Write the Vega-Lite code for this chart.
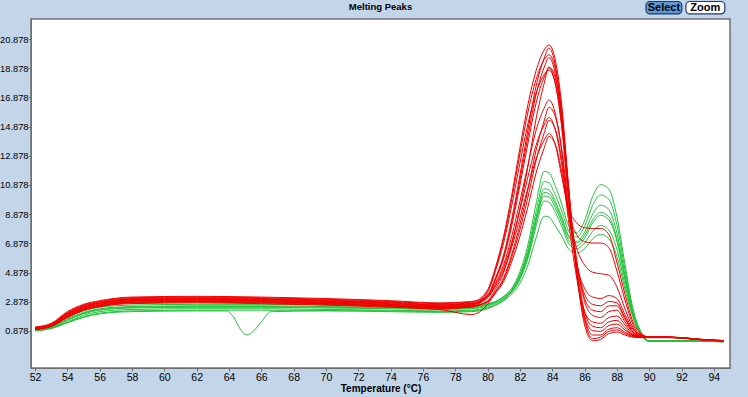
{
"$schema":"https://vega.github.io/schema/vega-lite/v6.json",
"width":699,"height":349,
"autosize":{"type":"none"},
"padding":{"left":31,"top":19,"right":18,"bottom":29},
"background":"#c3d5e8",
"config":{"view":{"fill":"#ffffff","stroke":"#6f6f6f","strokeWidth":1.5},"font":"Liberation Sans","axis":{"labelOverlap":false,"labelFlush":false,"labelBound":false}},
"title":{"text":"Melting Peaks","fontSize":9.5,"fontWeight":"bold","font":"Liberation Sans","color":"#000000","offset":0,"dy":11,"anchor":"middle"},
"datasets":{"curves":[
{"s":"G1","t":52,"v":0.95},{"s":"G1","t":53,"v":1.15},{"s":"G1","t":54,"v":1.7},{"s":"G1","t":55,"v":2.15},{"s":"G1","t":56,"v":2.4},{"s":"G1","t":58,"v":2.55},{"s":"G1","t":62,"v":2.6},{"s":"G1","t":66,"v":2.6},{"s":"G1","t":70,"v":2.55},{"s":"G1","t":74,"v":2.5},{"s":"G1","t":77,"v":2.45},{"s":"G1","t":79,"v":2.5},{"s":"G1","t":80,"v":2.7},{"s":"G1","t":80.5,"v":2.88},{"s":"G1","t":81,"v":3.25},{"s":"G1","t":81.5,"v":3.81},{"s":"G1","t":82,"v":4.93},{"s":"G1","t":82.5,"v":6.79},{"s":"G1","t":83,"v":9.58},{"s":"G1","t":83.5,"v":11.81},{"s":"G1","t":83.8,"v":11.71},{"s":"G1","t":84.2,"v":10.78},{"s":"G1","t":84.6,"v":9.54},{"s":"G1","t":85,"v":8.12},{"s":"G1","t":85.5,"v":7.6},{"s":"G1","t":86,"v":8.43},{"s":"G1","t":86.5,"v":10.08},{"s":"G1","t":87,"v":10.9},{"s":"G1","t":87.5,"v":10.6},{"s":"G1","t":88,"v":8.72},{"s":"G1","t":88.5,"v":5.45},{"s":"G1","t":89,"v":2.4},{"s":"G1","t":89.5,"v":0.8},{"s":"G1","t":90,"v":0.2},{"s":"G1","t":91,"v":0.22},{"s":"G1","t":92,"v":0.2},{"s":"G1","t":93,"v":0.18},{"s":"G1","t":94.6,"v":0.15},
{"s":"G2","t":52,"v":0.92},{"s":"G2","t":53,"v":1.1},{"s":"G2","t":54,"v":1.6},{"s":"G2","t":55,"v":2.05},{"s":"G2","t":56,"v":2.3},{"s":"G2","t":58,"v":2.45},{"s":"G2","t":62,"v":2.5},{"s":"G2","t":66,"v":2.5},{"s":"G2","t":70,"v":2.45},{"s":"G2","t":74,"v":2.4},{"s":"G2","t":77,"v":2.35},{"s":"G2","t":79,"v":2.4},{"s":"G2","t":80,"v":2.6},{"s":"G2","t":80.5,"v":2.86},{"s":"G2","t":81,"v":3.2},{"s":"G2","t":81.5,"v":3.72},{"s":"G2","t":82,"v":4.75},{"s":"G2","t":82.5,"v":6.47},{"s":"G2","t":83,"v":9.05},{"s":"G2","t":83.5,"v":11.11},{"s":"G2","t":83.8,"v":11.03},{"s":"G2","t":84.2,"v":10.17},{"s":"G2","t":84.6,"v":9.06},{"s":"G2","t":85,"v":7.77},{"s":"G2","t":85.5,"v":7.3},{"s":"G2","t":86,"v":8.03},{"s":"G2","t":86.5,"v":9.48},{"s":"G2","t":87,"v":10.2},{"s":"G2","t":87.5,"v":9.9},{"s":"G2","t":88,"v":8.16},{"s":"G2","t":88.5,"v":5.1},{"s":"G2","t":89,"v":2.2},{"s":"G2","t":89.5,"v":0.75},{"s":"G2","t":90,"v":0.2},{"s":"G2","t":91,"v":0.2},{"s":"G2","t":92,"v":0.2},{"s":"G2","t":93,"v":0.17},{"s":"G2","t":94.6,"v":0.14},
{"s":"G3","t":52,"v":0.98},{"s":"G3","t":53,"v":1.18},{"s":"G3","t":54,"v":1.8},{"s":"G3","t":55,"v":2.25},{"s":"G3","t":56,"v":2.5},{"s":"G3","t":58,"v":2.65},{"s":"G3","t":62,"v":2.7},{"s":"G3","t":66,"v":2.7},{"s":"G3","t":70,"v":2.65},{"s":"G3","t":74,"v":2.6},{"s":"G3","t":77,"v":2.5},{"s":"G3","t":79,"v":2.55},{"s":"G3","t":80,"v":2.75},{"s":"G3","t":80.5,"v":2.9},{"s":"G3","t":81,"v":3.2},{"s":"G3","t":81.5,"v":3.65},{"s":"G3","t":82,"v":4.63},{"s":"G3","t":82.5,"v":6.25},{"s":"G3","t":83,"v":8.68},{"s":"G3","t":83.5,"v":10.62},{"s":"G3","t":83.8,"v":10.54},{"s":"G3","t":84.2,"v":9.73},{"s":"G3","t":84.6,"v":8.67},{"s":"G3","t":85,"v":7.44},{"s":"G3","t":85.5,"v":7.0},{"s":"G3","t":86,"v":7.63},{"s":"G3","t":86.5,"v":8.88},{"s":"G3","t":87,"v":9.5},{"s":"G3","t":87.5,"v":9.2},{"s":"G3","t":88,"v":7.6},{"s":"G3","t":88.5,"v":4.75},{"s":"G3","t":89,"v":2.1},{"s":"G3","t":89.5,"v":0.7},{"s":"G3","t":90,"v":0.18},{"s":"G3","t":91,"v":0.2},{"s":"G3","t":92,"v":0.2},{"s":"G3","t":93,"v":0.18},{"s":"G3","t":94.6,"v":0.15},
{"s":"G4","t":52,"v":0.9},{"s":"G4","t":53,"v":1.08},{"s":"G4","t":54,"v":1.5},{"s":"G4","t":55,"v":1.95},{"s":"G4","t":56,"v":2.2},{"s":"G4","t":58,"v":2.35},{"s":"G4","t":62,"v":2.4},{"s":"G4","t":66,"v":2.4},{"s":"G4","t":70,"v":2.35},{"s":"G4","t":74,"v":2.3},{"s":"G4","t":77,"v":2.25},{"s":"G4","t":79,"v":2.3},{"s":"G4","t":80,"v":2.5},{"s":"G4","t":80.5,"v":2.75},{"s":"G4","t":81,"v":3.05},{"s":"G4","t":81.5,"v":3.59},{"s":"G4","t":82,"v":4.5},{"s":"G4","t":82.5,"v":6.02},{"s":"G4","t":83,"v":8.3},{"s":"G4","t":83.5,"v":10.12},{"s":"G4","t":83.8,"v":10.05},{"s":"G4","t":84.2,"v":9.29},{"s":"G4","t":84.6,"v":8.28},{"s":"G4","t":85,"v":7.12},{"s":"G4","t":85.5,"v":6.7},{"s":"G4","t":86,"v":7.23},{"s":"G4","t":86.5,"v":8.28},{"s":"G4","t":87,"v":8.8},{"s":"G4","t":87.5,"v":8.5},{"s":"G4","t":88,"v":7.04},{"s":"G4","t":88.5,"v":4.4},{"s":"G4","t":89,"v":2.0},{"s":"G4","t":89.5,"v":0.65},{"s":"G4","t":90,"v":0.18},{"s":"G4","t":91,"v":0.2},{"s":"G4","t":92,"v":0.19},{"s":"G4","t":93,"v":0.17},{"s":"G4","t":94.6,"v":0.14},
{"s":"G5","t":52,"v":0.93},{"s":"G5","t":53,"v":1.12},{"s":"G5","t":54,"v":1.65},{"s":"G5","t":55,"v":2.1},{"s":"G5","t":56,"v":2.35},{"s":"G5","t":58,"v":2.5},{"s":"G5","t":62,"v":2.55},{"s":"G5","t":66,"v":2.55},{"s":"G5","t":70,"v":2.5},{"s":"G5","t":74,"v":2.45},{"s":"G5","t":77,"v":2.4},{"s":"G5","t":79,"v":2.45},{"s":"G5","t":80,"v":2.65},{"s":"G5","t":80.5,"v":2.82},{"s":"G5","t":81,"v":3.11},{"s":"G5","t":81.5,"v":3.54},{"s":"G5","t":82,"v":4.41},{"s":"G5","t":82.5,"v":5.86},{"s":"G5","t":83,"v":8.04},{"s":"G5","t":83.5,"v":9.78},{"s":"G5","t":83.8,"v":9.7},{"s":"G5","t":84.2,"v":8.98},{"s":"G5","t":84.6,"v":8.01},{"s":"G5","t":85,"v":6.9},{"s":"G5","t":85.5,"v":6.5},{"s":"G5","t":86,"v":6.9},{"s":"G5","t":86.5,"v":7.7},{"s":"G5","t":87,"v":8.1},{"s":"G5","t":87.5,"v":7.8},{"s":"G5","t":88,"v":6.48},{"s":"G5","t":88.5,"v":4.05},{"s":"G5","t":89,"v":1.9},{"s":"G5","t":89.5,"v":0.62},{"s":"G5","t":90,"v":0.18},{"s":"G5","t":91,"v":0.2},{"s":"G5","t":92,"v":0.2},{"s":"G5","t":93,"v":0.18},{"s":"G5","t":94.6,"v":0.15},
{"s":"G6","t":52,"v":0.88},{"s":"G6","t":53,"v":1.05},{"s":"G6","t":54,"v":1.45},{"s":"G6","t":55,"v":1.85},{"s":"G6","t":56,"v":2.1},{"s":"G6","t":58,"v":2.25},{"s":"G6","t":62,"v":2.3},{"s":"G6","t":66,"v":2.3},{"s":"G6","t":70,"v":2.28},{"s":"G6","t":74,"v":2.25},{"s":"G6","t":77,"v":2.2},{"s":"G6","t":79,"v":2.25},{"s":"G6","t":80,"v":2.45},{"s":"G6","t":80.5,"v":2.65},{"s":"G6","t":81,"v":2.95},{"s":"G6","t":81.5,"v":3.41},{"s":"G6","t":82,"v":4.15},{"s":"G6","t":82.5,"v":5.39},{"s":"G6","t":83,"v":7.25},{"s":"G6","t":83.5,"v":8.74},{"s":"G6","t":83.8,"v":8.68},{"s":"G6","t":84.2,"v":8.06},{"s":"G6","t":84.6,"v":7.37},{"s":"G6","t":85,"v":6.51},{"s":"G6","t":85.5,"v":6.2},{"s":"G6","t":86,"v":6.53},{"s":"G6","t":86.5,"v":7.18},{"s":"G6","t":87,"v":7.5},{"s":"G6","t":87.5,"v":7.2},{"s":"G6","t":88,"v":6.0},{"s":"G6","t":88.5,"v":3.75},{"s":"G6","t":89,"v":1.8},{"s":"G6","t":89.5,"v":0.6},{"s":"G6","t":90,"v":0.17},{"s":"G6","t":91,"v":0.19},{"s":"G6","t":92,"v":0.19},{"s":"G6","t":93,"v":0.17},{"s":"G6","t":94.6,"v":0.14},
{"s":"G7","t":52,"v":0.9},{"s":"G7","t":53,"v":1.05},{"s":"G7","t":54,"v":1.45},{"s":"G7","t":55,"v":1.8},{"s":"G7","t":56,"v":2.05},{"s":"G7","t":58,"v":2.2},{"s":"G7","t":62,"v":2.25},{"s":"G7","t":63.8,"v":2.25},{"s":"G7","t":64.3,"v":1.8},{"s":"G7","t":64.7,"v":1.0},{"s":"G7","t":65.1,"v":0.6},{"s":"G7","t":65.5,"v":0.85},{"s":"G7","t":66,"v":1.5},{"s":"G7","t":66.6,"v":2.2},{"s":"G7","t":70,"v":2.25},{"s":"G7","t":74,"v":2.2},{"s":"G7","t":77,"v":2.15},{"s":"G7","t":79,"v":2.2},{"s":"G7","t":80,"v":2.4},{"s":"G7","t":80.5,"v":2.65},{"s":"G7","t":81,"v":3.0},{"s":"G7","t":81.5,"v":3.62},{"s":"G7","t":82,"v":4.56},{"s":"G7","t":82.5,"v":6.13},{"s":"G7","t":83,"v":8.49},{"s":"G7","t":83.5,"v":10.37},{"s":"G7","t":83.8,"v":10.29},{"s":"G7","t":84.2,"v":9.51},{"s":"G7","t":84.6,"v":8.5},{"s":"G7","t":85,"v":7.33},{"s":"G7","t":85.5,"v":6.9},{"s":"G7","t":86,"v":7.43},{"s":"G7","t":86.5,"v":8.48},{"s":"G7","t":87,"v":9.0},{"s":"G7","t":87.5,"v":8.7},{"s":"G7","t":88,"v":7.2},{"s":"G7","t":88.5,"v":4.5},{"s":"G7","t":89,"v":2.05},{"s":"G7","t":89.5,"v":0.68},{"s":"G7","t":90,"v":0.18},{"s":"G7","t":91,"v":0.2},{"s":"G7","t":92,"v":0.2},{"s":"G7","t":93,"v":0.18},{"s":"G7","t":94.6,"v":0.15},
{"s":"R1","t":52,"v":1.1},{"s":"R1","t":53,"v":1.35},{"s":"R1","t":54,"v":2.15},{"s":"R1","t":55,"v":2.65},{"s":"R1","t":56,"v":2.9},{"s":"R1","t":58,"v":3.15},{"s":"R1","t":62,"v":3.2},{"s":"R1","t":66,"v":3.15},{"s":"R1","t":70,"v":3.05},{"s":"R1","t":74,"v":2.9},{"s":"R1","t":77,"v":2.75},{"s":"R1","t":79,"v":2.85},{"s":"R1","t":80,"v":3.68},{"s":"R1","t":80.5,"v":5.27},{"s":"R1","t":81,"v":7.39},{"s":"R1","t":81.5,"v":10.22},{"s":"R1","t":82,"v":13.4},{"s":"R1","t":82.5,"v":16.41},{"s":"R1","t":83,"v":18.7},{"s":"R1","t":83.5,"v":20.12},{"s":"R1","t":83.8,"v":20.47},{"s":"R1","t":84.2,"v":19.41},{"s":"R1","t":84.6,"v":16.23},{"s":"R1","t":85,"v":10.93},{"s":"R1","t":85.5,"v":5.0},{"s":"R1","t":86,"v":1.6},{"s":"R1","t":86.5,"v":0.35},{"s":"R1","t":87,"v":0.45},{"s":"R1","t":87.5,"v":0.85},{"s":"R1","t":88,"v":0.95},{"s":"R1","t":88.5,"v":0.7},{"s":"R1","t":89,"v":0.5},{"s":"R1","t":89.5,"v":0.45},{"s":"R1","t":90,"v":0.45},{"s":"R1","t":91,"v":0.45},{"s":"R1","t":92,"v":0.4},{"s":"R1","t":93,"v":0.3},{"s":"R1","t":94.6,"v":0.2},
{"s":"R2","t":52,"v":1.05},{"s":"R2","t":53,"v":1.3},{"s":"R2","t":54,"v":2.05},{"s":"R2","t":55,"v":2.55},{"s":"R2","t":56,"v":2.8},{"s":"R2","t":58,"v":3.05},{"s":"R2","t":62,"v":3.1},{"s":"R2","t":66,"v":3.05},{"s":"R2","t":70,"v":2.95},{"s":"R2","t":74,"v":2.8},{"s":"R2","t":77,"v":2.65},{"s":"R2","t":79,"v":2.75},{"s":"R2","t":80,"v":3.32},{"s":"R2","t":80.5,"v":4.55},{"s":"R2","t":81,"v":6.12},{"s":"R2","t":81.5,"v":8.56},{"s":"R2","t":82,"v":11.53},{"s":"R2","t":82.5,"v":14.67},{"s":"R2","t":83,"v":17.64},{"s":"R2","t":83.5,"v":19.56},{"s":"R2","t":83.8,"v":20.26},{"s":"R2","t":84.2,"v":19.04},{"s":"R2","t":84.6,"v":15.72},{"s":"R2","t":85,"v":10.66},{"s":"R2","t":85.5,"v":5.5},{"s":"R2","t":86,"v":2.2},{"s":"R2","t":86.5,"v":1.2},{"s":"R2","t":87,"v":1.1},{"s":"R2","t":87.5,"v":1.5},{"s":"R2","t":88,"v":1.6},{"s":"R2","t":88.5,"v":1.1},{"s":"R2","t":89,"v":0.6},{"s":"R2","t":89.5,"v":0.5},{"s":"R2","t":90,"v":0.48},{"s":"R2","t":91,"v":0.45},{"s":"R2","t":92,"v":0.42},{"s":"R2","t":93,"v":0.32},{"s":"R2","t":94.6,"v":0.22},
{"s":"R3","t":52,"v":1.0},{"s":"R3","t":53,"v":1.25},{"s":"R3","t":54,"v":1.95},{"s":"R3","t":55,"v":2.45},{"s":"R3","t":56,"v":2.7},{"s":"R3","t":58,"v":2.95},{"s":"R3","t":62,"v":3.0},{"s":"R3","t":66,"v":2.95},{"s":"R3","t":70,"v":2.85},{"s":"R3","t":74,"v":2.7},{"s":"R3","t":77,"v":2.55},{"s":"R3","t":79,"v":2.65},{"s":"R3","t":80,"v":3.65},{"s":"R3","t":80.5,"v":5.18},{"s":"R3","t":81,"v":7.22},{"s":"R3","t":81.5,"v":9.94},{"s":"R3","t":82,"v":13.0},{"s":"R3","t":82.5,"v":15.89},{"s":"R3","t":83,"v":18.1},{"s":"R3","t":83.5,"v":19.46},{"s":"R3","t":83.8,"v":19.8},{"s":"R3","t":84.2,"v":18.78},{"s":"R3","t":84.6,"v":15.72},{"s":"R3","t":85,"v":10.62},{"s":"R3","t":85.5,"v":5.2},{"s":"R3","t":86,"v":1.8},{"s":"R3","t":86.5,"v":0.6},{"s":"R3","t":87,"v":0.6},{"s":"R3","t":87.5,"v":1.0},{"s":"R3","t":88,"v":1.1},{"s":"R3","t":88.5,"v":0.8},{"s":"R3","t":89,"v":0.55},{"s":"R3","t":89.5,"v":0.45},{"s":"R3","t":90,"v":0.45},{"s":"R3","t":91,"v":0.44},{"s":"R3","t":92,"v":0.4},{"s":"R3","t":93,"v":0.3},{"s":"R3","t":94.6,"v":0.2},
{"s":"R4","t":52,"v":1.15},{"s":"R4","t":53,"v":1.4},{"s":"R4","t":54,"v":2.2},{"s":"R4","t":55,"v":2.7},{"s":"R4","t":56,"v":2.95},{"s":"R4","t":58,"v":3.2},{"s":"R4","t":62,"v":3.25},{"s":"R4","t":66,"v":3.2},{"s":"R4","t":70,"v":3.1},{"s":"R4","t":74,"v":2.95},{"s":"R4","t":77,"v":2.8},{"s":"R4","t":79,"v":2.9},{"s":"R4","t":80,"v":3.3},{"s":"R4","t":80.5,"v":4.48},{"s":"R4","t":81,"v":5.99},{"s":"R4","t":81.5,"v":8.34},{"s":"R4","t":82,"v":11.2},{"s":"R4","t":82.5,"v":14.22},{"s":"R4","t":83,"v":17.08},{"s":"R4","t":83.5,"v":18.93},{"s":"R4","t":83.8,"v":19.6},{"s":"R4","t":84.2,"v":18.42},{"s":"R4","t":84.6,"v":15.23},{"s":"R4","t":85,"v":10.36},{"s":"R4","t":85.5,"v":5.8},{"s":"R4","t":86,"v":2.9},{"s":"R4","t":86.5,"v":1.95},{"s":"R4","t":87,"v":1.8},{"s":"R4","t":87.5,"v":2.2},{"s":"R4","t":88,"v":2.3},{"s":"R4","t":88.5,"v":1.5},{"s":"R4","t":89,"v":0.75},{"s":"R4","t":89.5,"v":0.5},{"s":"R4","t":90,"v":0.45},{"s":"R4","t":91,"v":0.46},{"s":"R4","t":92,"v":0.42},{"s":"R4","t":93,"v":0.3},{"s":"R4","t":94.6,"v":0.2},
{"s":"R5","t":52,"v":1.0},{"s":"R5","t":53,"v":1.2},{"s":"R5","t":54,"v":1.85},{"s":"R5","t":55,"v":2.35},{"s":"R5","t":56,"v":2.6},{"s":"R5","t":58,"v":2.85},{"s":"R5","t":62,"v":2.9},{"s":"R5","t":66,"v":2.85},{"s":"R5","t":70,"v":2.75},{"s":"R5","t":74,"v":2.6},{"s":"R5","t":77,"v":2.45},{"s":"R5","t":79,"v":2.55},{"s":"R5","t":80,"v":2.95},{"s":"R5","t":80.5,"v":3.77},{"s":"R5","t":81,"v":4.9},{"s":"R5","t":81.5,"v":6.84},{"s":"R5","t":82,"v":9.26},{"s":"R5","t":82.5,"v":12.17},{"s":"R5","t":83,"v":15.4},{"s":"R5","t":83.5,"v":17.83},{"s":"R5","t":83.8,"v":18.96},{"s":"R5","t":84.2,"v":18.15},{"s":"R5","t":84.6,"v":15.4},{"s":"R5","t":85,"v":10.88},{"s":"R5","t":85.5,"v":5.0},{"s":"R5","t":86,"v":1.3},{"s":"R5","t":86.5,"v":0.2},{"s":"R5","t":87,"v":0.3},{"s":"R5","t":87.5,"v":0.7},{"s":"R5","t":88,"v":0.8},{"s":"R5","t":88.5,"v":0.6},{"s":"R5","t":89,"v":0.45},{"s":"R5","t":89.5,"v":0.42},{"s":"R5","t":90,"v":0.42},{"s":"R5","t":91,"v":0.42},{"s":"R5","t":92,"v":0.38},{"s":"R5","t":93,"v":0.28},{"s":"R5","t":94.6,"v":0.18},
{"s":"R6","t":52,"v":1.1},{"s":"R6","t":53,"v":1.35},{"s":"R6","t":54,"v":2.1},{"s":"R6","t":55,"v":2.6},{"s":"R6","t":56,"v":2.85},{"s":"R6","t":58,"v":3.1},{"s":"R6","t":62,"v":3.15},{"s":"R6","t":66,"v":3.1},{"s":"R6","t":70,"v":3.0},{"s":"R6","t":74,"v":2.85},{"s":"R6","t":77,"v":2.7},{"s":"R6","t":79,"v":2.8},{"s":"R6","t":80,"v":3.28},{"s":"R6","t":80.5,"v":4.41},{"s":"R6","t":81,"v":5.86},{"s":"R6","t":81.5,"v":8.11},{"s":"R6","t":82,"v":10.85},{"s":"R6","t":82.5,"v":13.75},{"s":"R6","t":83,"v":16.49},{"s":"R6","t":83.5,"v":18.26},{"s":"R6","t":83.8,"v":18.9},{"s":"R6","t":84.2,"v":17.77},{"s":"R6","t":84.6,"v":14.71},{"s":"R6","t":85,"v":10.05},{"s":"R6","t":85.5,"v":5.7},{"s":"R6","t":86,"v":3.1},{"s":"R6","t":86.5,"v":2.3},{"s":"R6","t":87,"v":2.2},{"s":"R6","t":87.5,"v":2.6},{"s":"R6","t":88,"v":2.6},{"s":"R6","t":88.5,"v":1.7},{"s":"R6","t":89,"v":0.8},{"s":"R6","t":89.5,"v":0.52},{"s":"R6","t":90,"v":0.46},{"s":"R6","t":91,"v":0.45},{"s":"R6","t":92,"v":0.4},{"s":"R6","t":93,"v":0.3},{"s":"R6","t":94.6,"v":0.2},
{"s":"R7","t":52,"v":1.0},{"s":"R7","t":53,"v":1.22},{"s":"R7","t":54,"v":1.8},{"s":"R7","t":55,"v":2.3},{"s":"R7","t":56,"v":2.55},{"s":"R7","t":58,"v":2.8},{"s":"R7","t":62,"v":2.85},{"s":"R7","t":66,"v":2.8},{"s":"R7","t":70,"v":2.7},{"s":"R7","t":74,"v":2.55},{"s":"R7","t":77,"v":2.4},{"s":"R7","t":79,"v":2.5},{"s":"R7","t":80,"v":3.5},{"s":"R7","t":80.5,"v":5.03},{"s":"R7","t":81,"v":6.95},{"s":"R7","t":81.5,"v":9.5},{"s":"R7","t":82,"v":12.37},{"s":"R7","t":82.5,"v":15.08},{"s":"R7","t":83,"v":17.16},{"s":"R7","t":83.5,"v":18.43},{"s":"R7","t":83.8,"v":18.75},{"s":"R7","t":84.2,"v":17.79},{"s":"R7","t":84.6,"v":14.92},{"s":"R7","t":85,"v":10.14},{"s":"R7","t":85.5,"v":5.0},{"s":"R7","t":86,"v":1.9},{"s":"R7","t":86.5,"v":0.9},{"s":"R7","t":87,"v":0.85},{"s":"R7","t":87.5,"v":1.25},{"s":"R7","t":88,"v":1.35},{"s":"R7","t":88.5,"v":0.95},{"s":"R7","t":89,"v":0.58},{"s":"R7","t":89.5,"v":0.48},{"s":"R7","t":90,"v":0.45},{"s":"R7","t":91,"v":0.45},{"s":"R7","t":92,"v":0.4},{"s":"R7","t":93,"v":0.3},{"s":"R7","t":94.6,"v":0.2},
{"s":"R8","t":52,"v":1.05},{"s":"R8","t":53,"v":1.3},{"s":"R8","t":54,"v":2.0},{"s":"R8","t":55,"v":2.5},{"s":"R8","t":56,"v":2.75},{"s":"R8","t":58,"v":3.0},{"s":"R8","t":62,"v":3.05},{"s":"R8","t":66,"v":3.0},{"s":"R8","t":70,"v":2.9},{"s":"R8","t":74,"v":2.75},{"s":"R8","t":77,"v":2.6},{"s":"R8","t":79,"v":2.7},{"s":"R8","t":80,"v":3.22},{"s":"R8","t":80.5,"v":4.19},{"s":"R8","t":81,"v":5.44},{"s":"R8","t":81.5,"v":7.39},{"s":"R8","t":82,"v":9.75},{"s":"R8","t":82.5,"v":12.25},{"s":"R8","t":83,"v":14.62},{"s":"R8","t":83.5,"v":16.14},{"s":"R8","t":83.8,"v":16.7},{"s":"R8","t":84.2,"v":15.73},{"s":"R8","t":84.6,"v":13.09},{"s":"R8","t":85,"v":9.06},{"s":"R8","t":85.5,"v":6.6},{"s":"R8","t":86,"v":5.4},{"s":"R8","t":86.5,"v":4.9},{"s":"R8","t":87,"v":4.8},{"s":"R8","t":87.5,"v":4.7},{"s":"R8","t":88,"v":3.9},{"s":"R8","t":88.5,"v":2.4},{"s":"R8","t":89,"v":1.1},{"s":"R8","t":89.5,"v":0.6},{"s":"R8","t":90,"v":0.47},{"s":"R8","t":91,"v":0.46},{"s":"R8","t":92,"v":0.42},{"s":"R8","t":93,"v":0.32},{"s":"R8","t":94.6,"v":0.22},
{"s":"R9","t":52,"v":1.0},{"s":"R9","t":53,"v":1.25},{"s":"R9","t":54,"v":1.9},{"s":"R9","t":55,"v":2.4},{"s":"R9","t":56,"v":2.65},{"s":"R9","t":58,"v":2.9},{"s":"R9","t":62,"v":2.95},{"s":"R9","t":66,"v":2.9},{"s":"R9","t":70,"v":2.8},{"s":"R9","t":74,"v":2.65},{"s":"R9","t":77,"v":2.5},{"s":"R9","t":79,"v":2.6},{"s":"R9","t":80,"v":2.9},{"s":"R9","t":80.5,"v":3.6},{"s":"R9","t":81,"v":4.54},{"s":"R9","t":81.5,"v":6.15},{"s":"R9","t":82,"v":8.16},{"s":"R9","t":82.5,"v":10.57},{"s":"R9","t":83,"v":13.25},{"s":"R9","t":83.5,"v":15.26},{"s":"R9","t":83.8,"v":16.2},{"s":"R9","t":84.2,"v":15.53},{"s":"R9","t":84.6,"v":13.25},{"s":"R9","t":85,"v":9.5},{"s":"R9","t":85.5,"v":5.6},{"s":"R9","t":86,"v":3.4},{"s":"R9","t":86.5,"v":2.7},{"s":"R9","t":87,"v":2.6},{"s":"R9","t":87.5,"v":2.9},{"s":"R9","t":88,"v":2.8},{"s":"R9","t":88.5,"v":1.8},{"s":"R9","t":89,"v":0.9},{"s":"R9","t":89.5,"v":0.55},{"s":"R9","t":90,"v":0.45},{"s":"R9","t":91,"v":0.44},{"s":"R9","t":92,"v":0.4},{"s":"R9","t":93,"v":0.3},{"s":"R9","t":94.6,"v":0.2},
{"s":"R10","t":52,"v":1.05},{"s":"R10","t":53,"v":1.3},{"s":"R10","t":54,"v":2.05},{"s":"R10","t":55,"v":2.55},{"s":"R10","t":56,"v":2.8},{"s":"R10","t":58,"v":3.05},{"s":"R10","t":62,"v":3.1},{"s":"R10","t":66,"v":3.05},{"s":"R10","t":70,"v":2.95},{"s":"R10","t":74,"v":2.8},{"s":"R10","t":77,"v":2.65},{"s":"R10","t":79,"v":2.75},{"s":"R10","t":80,"v":3.18},{"s":"R10","t":80.5,"v":4.07},{"s":"R10","t":81,"v":5.21},{"s":"R10","t":81.5,"v":6.99},{"s":"R10","t":82,"v":9.15},{"s":"R10","t":82.5,"v":11.44},{"s":"R10","t":83,"v":13.6},{"s":"R10","t":83.5,"v":14.99},{"s":"R10","t":83.8,"v":15.5},{"s":"R10","t":84.2,"v":14.61},{"s":"R10","t":84.6,"v":12.2},{"s":"R10","t":85,"v":8.52},{"s":"R10","t":85.5,"v":4.6},{"s":"R10","t":86,"v":2.2},{"s":"R10","t":86.5,"v":1.5},{"s":"R10","t":87,"v":1.4},{"s":"R10","t":87.5,"v":1.8},{"s":"R10","t":88,"v":1.9},{"s":"R10","t":88.5,"v":1.3},{"s":"R10","t":89,"v":0.65},{"s":"R10","t":89.5,"v":0.5},{"s":"R10","t":90,"v":0.46},{"s":"R10","t":91,"v":0.45},{"s":"R10","t":92,"v":0.4},{"s":"R10","t":93,"v":0.3},{"s":"R10","t":94.6,"v":0.2},
{"s":"R11","t":52,"v":0.98},{"s":"R11","t":53,"v":1.2},{"s":"R11","t":54,"v":1.8},{"s":"R11","t":55,"v":2.3},{"s":"R11","t":56,"v":2.55},{"s":"R11","t":58,"v":2.75},{"s":"R11","t":62,"v":2.8},{"s":"R11","t":66,"v":2.75},{"s":"R11","t":70,"v":2.65},{"s":"R11","t":74,"v":2.5},{"s":"R11","t":77,"v":2.35},{"s":"R11","t":79,"v":2.0},{"s":"R11","t":80,"v":2.7},{"s":"R11","t":80.5,"v":3.55},{"s":"R11","t":81,"v":4.43},{"s":"R11","t":81.5,"v":5.93},{"s":"R11","t":82,"v":7.8},{"s":"R11","t":82.5,"v":10.05},{"s":"R11","t":83,"v":12.55},{"s":"R11","t":83.5,"v":14.43},{"s":"R11","t":83.8,"v":15.3},{"s":"R11","t":84.2,"v":14.68},{"s":"R11","t":84.6,"v":12.55},{"s":"R11","t":85,"v":9.05},{"s":"R11","t":85.5,"v":5.5},{"s":"R11","t":86,"v":3.8},{"s":"R11","t":86.5,"v":3.2},{"s":"R11","t":87,"v":3.1},{"s":"R11","t":87.5,"v":3.3},{"s":"R11","t":88,"v":3.1},{"s":"R11","t":88.5,"v":2.0},{"s":"R11","t":89,"v":1.0},{"s":"R11","t":89.5,"v":0.58},{"s":"R11","t":90,"v":0.46},{"s":"R11","t":91,"v":0.45},{"s":"R11","t":92,"v":0.41},{"s":"R11","t":93,"v":0.31},{"s":"R11","t":94.6,"v":0.21},
{"s":"R12","t":52,"v":1.0},{"s":"R12","t":53,"v":1.25},{"s":"R12","t":54,"v":1.95},{"s":"R12","t":55,"v":2.45},{"s":"R12","t":56,"v":2.7},{"s":"R12","t":58,"v":2.95},{"s":"R12","t":62,"v":3.0},{"s":"R12","t":66,"v":2.95},{"s":"R12","t":70,"v":2.85},{"s":"R12","t":74,"v":2.7},{"s":"R12","t":77,"v":2.55},{"s":"R12","t":79,"v":2.65},{"s":"R12","t":80,"v":3.15},{"s":"R12","t":80.5,"v":3.96},{"s":"R12","t":81,"v":5.0},{"s":"R12","t":81.5,"v":6.63},{"s":"R12","t":82,"v":8.6},{"s":"R12","t":82.5,"v":10.69},{"s":"R12","t":83,"v":12.66},{"s":"R12","t":83.5,"v":13.94},{"s":"R12","t":83.8,"v":14.4},{"s":"R12","t":84.2,"v":13.59},{"s":"R12","t":84.6,"v":11.38},{"s":"R12","t":85,"v":9.3},{"s":"R12","t":85.5,"v":8.3},{"s":"R12","t":86,"v":7.95},{"s":"R12","t":86.5,"v":7.9},{"s":"R12","t":87,"v":7.9},{"s":"R12","t":87.5,"v":7.5},{"s":"R12","t":88,"v":5.6},{"s":"R12","t":88.5,"v":3.4},{"s":"R12","t":89,"v":1.5},{"s":"R12","t":89.5,"v":0.7},{"s":"R12","t":90,"v":0.47},{"s":"R12","t":91,"v":0.46},{"s":"R12","t":92,"v":0.42},{"s":"R12","t":93,"v":0.32},{"s":"R12","t":94.6,"v":0.22},
{"s":"R13","t":52,"v":1.0},{"s":"R13","t":53,"v":1.2},{"s":"R13","t":54,"v":1.85},{"s":"R13","t":55,"v":2.35},{"s":"R13","t":56,"v":2.6},{"s":"R13","t":58,"v":2.85},{"s":"R13","t":62,"v":2.9},{"s":"R13","t":66,"v":2.85},{"s":"R13","t":70,"v":2.75},{"s":"R13","t":74,"v":2.6},{"s":"R13","t":77,"v":2.45},{"s":"R13","t":79,"v":2.55},{"s":"R13","t":80,"v":2.85},{"s":"R13","t":80.5,"v":3.48},{"s":"R13","t":81,"v":4.28},{"s":"R13","t":81.5,"v":5.65},{"s":"R13","t":82,"v":7.36},{"s":"R13","t":82.5,"v":9.41},{"s":"R13","t":83,"v":11.69},{"s":"R13","t":83.5,"v":13.4},{"s":"R13","t":83.8,"v":14.2},{"s":"R13","t":84.2,"v":13.63},{"s":"R13","t":84.6,"v":11.69},{"s":"R13","t":85,"v":9.0},{"s":"R13","t":85.5,"v":7.5},{"s":"R13","t":86,"v":7.0},{"s":"R13","t":86.5,"v":6.9},{"s":"R13","t":87,"v":6.9},{"s":"R13","t":87.5,"v":6.6},{"s":"R13","t":88,"v":5.0},{"s":"R13","t":88.5,"v":3.0},{"s":"R13","t":89,"v":1.3},{"s":"R13","t":89.5,"v":0.6},{"s":"R13","t":90,"v":0.45},{"s":"R13","t":91,"v":0.45},{"s":"R13","t":92,"v":0.4},{"s":"R13","t":93,"v":0.3},{"s":"R13","t":94.6,"v":0.2}
]},
"layer":[
{"data":{"name":"curves"},
 "mark":{"type":"line","interpolate":"monotone","strokeWidth":1},
 "encoding":{
  "x":{"field":"t","type":"quantitative","scale":{"domain":[51.75,95],"nice":false,"zero":false},
   "axis":{"values":[52,54,56,58,60,62,64,66,68,70,72,74,76,78,80,82,84,86,88,90,92,94],"tickCount":40,"title":"Temperature (°C)","grid":false,"labelFlush":false,"labelOverlap":false,"labelBound":false,"labelFontSize":10.5,"labelColor":"#000000","labelFont":"Liberation Sans","tickColor":"#6f6f6f","domainColor":"#6f6f6f","tickSize":3,"labelPadding":1,"titleFontSize":10,"titleFontWeight":"bold","titleFont":"Liberation Sans","titleColor":"#000000","titlePadding":1}},
  "y":{"field":"v","type":"quantitative","scale":{"domain":[-1.66,22.25],"nice":false,"zero":false},
   "axis":{"values":[0.878,2.878,4.878,6.878,8.878,10.878,12.878,14.878,16.878,18.878,20.878],"tickCount":40,"format":".3f","title":null,"grid":false,"labelFlush":false,"labelOverlap":false,"labelBound":false,"labelFontSize":9.3,"labelColor":"#000000","labelFont":"Liberation Sans","tickColor":"#6f6f6f","domainColor":"#6f6f6f","tickSize":3,"labelPadding":0}},
  "color":{"field":"s","type":"nominal","legend":null,
   "scale":{"domain":["G1","G2","G3","G4","G5","G6","G7","R1","R2","R3","R4","R5","R6","R7","R8","R9","R10","R11","R12","R13"],
    "range":["#22c23c","#22c23c","#22c23c","#22c23c","#22c23c","#22c23c","#22c23c","#f00000","#f00000","#f00000","#f00000","#f00000","#f00000","#f00000","#f00000","#f00000","#f00000","#f00000","#f00000","#f00000"]}}
 }},
{"data":{"values":[{}]},"mark":{"type":"rect","cornerRadius":4,"fill":"#5b9ad6","stroke":"#1c3a66","strokeWidth":1.2,"clip":false},
 "encoding":{"x":{"datum":89.8},"x2":{"datum":92.02},"y":{"datum":23.45},"y2":{"datum":22.6}}},
{"data":{"values":[{}]},"mark":{"type":"rect","cornerRadius":4,"fill":"#ffffff","stroke":"#1c3a66","strokeWidth":1.2,"clip":false},
 "encoding":{"x":{"datum":92.27},"x2":{"datum":94.68},"y":{"datum":23.45},"y2":{"datum":22.6}}},
{"data":{"values":[{}]},"mark":{"type":"text","text":"Select","font":"Liberation Sans","fontSize":11,"fontWeight":"bold","color":"#000000","align":"center","baseline":"middle","clip":false},
 "encoding":{"x":{"datum":90.91},"y":{"datum":23.03}}},
{"data":{"values":[{}]},"mark":{"type":"text","text":"Zoom","font":"Liberation Sans","fontSize":11,"fontWeight":"bold","color":"#000000","align":"center","baseline":"middle","clip":false},
 "encoding":{"x":{"datum":93.47},"y":{"datum":23.03}}}
]
}
